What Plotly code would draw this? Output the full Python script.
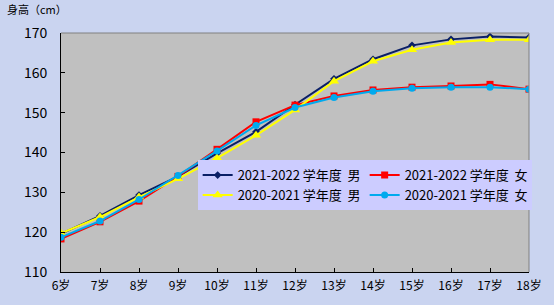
import plotly.graph_objects as go

ages = ["6岁", "7岁", "8岁", "9岁", "10岁", "11岁", "12岁", "13岁", "14岁", "15岁", "16岁", "17岁", "18岁"]
boys_2122 = [119.6, 124.1, 129.3, 134.0, 139.8, 145.2, 152.0, 158.5, 163.4, 166.9, 168.4, 169.1, 168.9]
girls_2122 = [118.3, 122.6, 127.8, 134.0, 140.8, 147.7, 151.9, 154.2, 155.7, 156.4, 156.7, 157.1, 155.9]
boys_2021 = [119.7, 123.8, 128.8, 133.4, 138.6, 144.3, 150.7, 157.9, 162.9, 165.8, 167.6, 168.3, 168.3]
girls_2021 = [118.7, 122.8, 128.2, 134.2, 140.4, 146.8, 151.3, 153.8, 155.4, 156.1, 156.4, 156.4, 155.9]

names = ["2021-2022 学年度  男", "2021-2022 学年度  女", "2020-2021 学年度  男", "2020-2021 学年度  女"]
series = [boys_2122, girls_2122, boys_2021, girls_2021]
colors = ["#0A1F66", "#FF0000", "#FFFF00", "#00AAEE"]
symbols = ["diamond", "square", "triangle-up", "circle"]
sizes = [6, 7, 9, 7]

font = "Noto Sans CJK SC"
fig = go.Figure()
for n, s, c, sym, sz in zip(names, series, colors, symbols, sizes):
    fig.add_trace(go.Scatter(x=ages, y=s, name=n, mode="lines+markers",
                             line=dict(color=c, width=2),
                             marker=dict(color=c, symbol=sym, size=sz)))

fig.update_layout(
    width=554, height=305,
    margin=dict(l=61, r=17, t=33, b=30),
    paper_bgcolor="#CAD4F0",
    plot_bgcolor="#C0C0C0",
    font=dict(family=font, size=12, color="#000000"),
    legend=dict(orientation="h", x=0.292, y=0.468, xanchor="left", yanchor="top",
                bgcolor="#CCCCFF", entrywidth=122, font=dict(size=13),
                traceorder="normal"),
    annotations=[dict(text="身高（cm）", xref="paper", yref="paper",
                      x=-0.12, y=1.1, showarrow=False, xanchor="left",
                      yanchor="middle", font=dict(size=11))],
)
fig.update_xaxes(showgrid=False, showline=True, linecolor="#000000", linewidth=1,
                 ticks="inside", ticklen=4, tickcolor="#000000", range=[0, 12],
                 tickfont=dict(size=12), ticklabelstandoff=3, zeroline=False)
fig.update_yaxes(range=[110, 170], dtick=10, showgrid=False, showline=True,
                 linecolor="#000000", linewidth=1, ticks="inside", ticklen=4,
                 tickcolor="#000000", ticklabelstandoff=10, tickfont=dict(size=14),
                 zeroline=False)
fig.add_shape(type="line", xref="paper", yref="paper", x0=0, x1=1, y0=1, y1=1,
              line=dict(color="#808080", width=1))
fig.add_shape(type="line", xref="paper", yref="paper", x0=1, x1=1, y0=0, y1=1,
              line=dict(color="#808080", width=1))
fig.write_html("out.html")
